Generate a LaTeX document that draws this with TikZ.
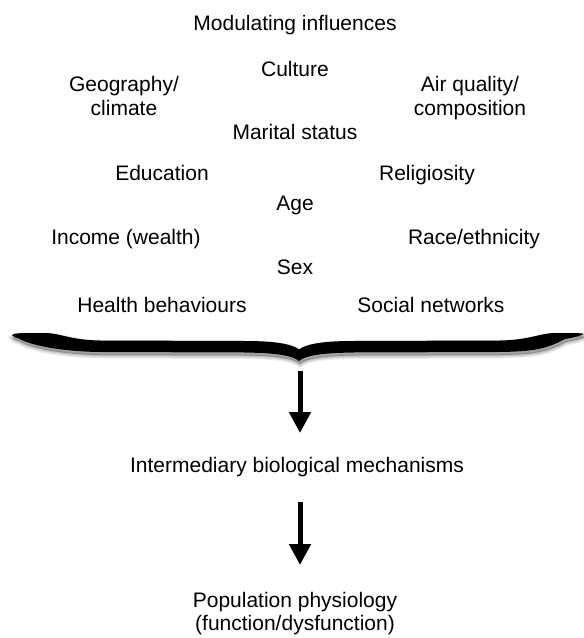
\documentclass[tikz,border=0pt]{standalone}
\usepackage{fontspec}
\setmainfont{Liberation Sans}
\usetikzlibrary{arrows.meta}
\tikzset{
  lbl/.style={anchor=base, inner sep=0pt, align=center, font=\fontsize{21bp}{23.5bp}\selectfont},
  bigarrow/.style={line width=5bp, -{Triangle[width=21bp,length=21bp]}},
  bracepath/.style={insert path={
    (12,335) .. controls (14,333) and (20,333) .. (45,333)
    .. controls (60,333) and (70,340) .. (100,340.5) -- (245,341)
    .. controls (275,341) and (292,344) .. (299,349.5)
    .. controls (306,344) and (323,341) .. (353,341) -- (500,340.5)
    .. controls (530,340) and (540,333) .. (555,333)
    .. controls (575,333) and (582,333) .. (584,334)
    .. controls (580,336) and (572,338) .. (565,339)
    .. controls (545,350) and (530,351.5) .. (500,352) -- (353,352.5)
    .. controls (325,353) and (306,355) .. (299,361)
    .. controls (292,355) and (273,353) .. (245,352.5) -- (100,352)
    .. controls (60,351.5) and (30,345) .. (20,339)
    .. controls (15,337) and (12,336) .. cycle}}
}
\begin{document}
\begin{tikzpicture}[x=1bp,y=-1bp]
\useasboundingbox (0,0) rectangle (584,638);
% text
\node[lbl] (mod) at (295,31) {Modulating influences};
\node[lbl] (cult) at (295,77) {Culture};
\node[lbl] (geo) at (124,115.5) {Geography/\\climate};
\node[lbl] (air) at (470,115.5) {Air quality/\\composition};
\node[lbl] (mar) at (295,140) {Marital status};
\node[lbl] (edu) at (162,181) {Education};
\node[lbl] (rel) at (427,181) {Religiosity};
\node[lbl] (age) at (295,210) {Age};
\node[lbl] (inc) at (126,244) {Income (wealth)};
\node[lbl] (race) at (474,244) {Race/ethnicity};
\node[lbl] (sex) at (295,274) {Sex};
\node[lbl] (hb) at (162,312) {Health behaviours};
\node[lbl] (sn) at (431,312) {Social networks};
\node[lbl] (inter) at (297,472) {Intermediary biological mechanisms};
\node[lbl] (pop) at (295,630.5) {Population physiology\\(function/dysfunction)};
% brace with soft shadow
\foreach \w in {7,5,3,1.5}{
  \filldraw[black, fill opacity=0.07, draw opacity=0.07, line width=\w bp, xshift=1bp, yshift=-3bp, bracepath];
}
\fill[black, bracepath];
\coordinate (bracetip) at (299,361);
% arrows
\coordinate (a1s) at (300,371);
\coordinate (a1e) at (300,433);
\coordinate (a2s) at (300,502);
\coordinate (a2e) at (300,565);
\draw[bigarrow] (a1s) -- (a1e);
\draw[bigarrow] (a2s) -- (a2e);
\end{tikzpicture}
\end{document}
